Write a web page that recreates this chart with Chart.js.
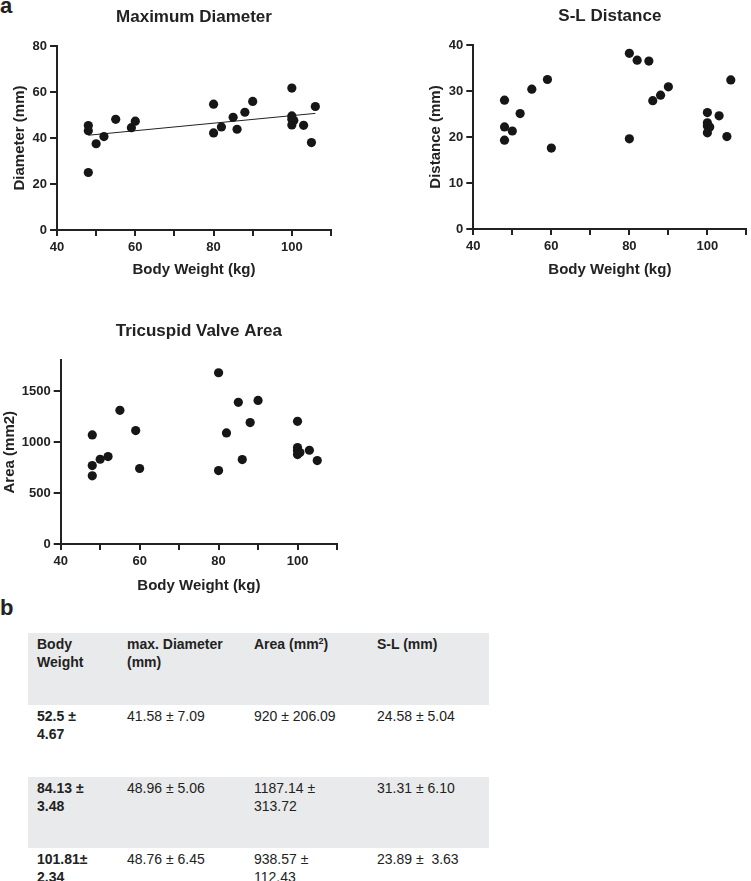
<!DOCTYPE html>
<html>
<head>
<meta charset="utf-8">
<script src="https://cdn.jsdelivr.net/npm/chart.js@4/dist/chart.umd.min.js"></script>
<style>
  html, body { margin: 0; padding: 0; background: #fff; width: 751px; height: 881px; overflow: hidden; position: relative; font-family: "Liberation Sans", Arial, sans-serif; color: #222; }
  canvas { position: absolute; }
  .panel { position: absolute; font-weight: bold; font-size: 22px; line-height: 1; color: #222; }
  table { position: absolute; left: 28px; top: 633px; border-collapse: collapse; table-layout: fixed; font-size: 14px; line-height: 18px; color: #222; }
  td { vertical-align: top; padding: 2px 0 0 9px; white-space: nowrap; }
  tr.grey td { background: #e9eaeb; }
  td.b { font-weight: bold; }
  sup { font-size: 9px; line-height: 0; vertical-align: 5px; }
</style>
</head>
<body>
<div class="panel" style="left:0px;top:-5px;">a</div>
<div class="panel" style="left:0px;top:597px;">b</div>
<canvas id="c1" width="345" height="290" style="left:0px;top:0px;"></canvas>
<canvas id="c2" width="331" height="290" style="left:420px;top:0px;"></canvas>
<canvas id="c3" width="345" height="300" style="left:0px;top:300px;"></canvas>
<table id="tbl"></table>
<script>
// ---------- data ----------
const xTickValues = [40, 50, 60, 70, 80, 90, 100, 110];
const xTickLabels = [40, 60, 80, 100];
const diamTicks = [0, 20, 40, 60, 80];
const slTicks   = [0, 10, 20, 30, 40];
const areaTicks = [0, 500, 1000, 1500];

const diamWeight = [48, 48, 48, 50, 52, 55, 59, 60, 80, 80, 82, 85, 86, 88, 90, 100, 100, 100, 100, 100.5, 103, 105, 106];
const diameter   = [45.4, 43.2, 25.0, 37.5, 40.6, 48.1, 44.5, 47.3, 54.7, 42.2, 44.8, 49.0, 43.8, 51.2, 55.9, 61.7, 49.6, 48.1, 45.7, 47.6, 45.5, 38.0, 53.7];
const fitWeight  = [48, 106];
const fitDiam    = [41.2, 50.7];

const slWeight   = [48, 48, 48, 50, 52, 55, 59, 60, 80, 80, 82, 85, 86, 88, 90, 100, 100, 100, 100, 100.6, 103, 105, 106];
const slDistance = [28.0, 22.2, 19.3, 21.3, 25.1, 30.4, 32.5, 17.6, 38.2, 19.6, 36.7, 36.5, 27.9, 29.1, 30.9, 25.3, 23.1, 22.4, 20.9, 22.2, 24.6, 20.1, 32.4];

const areaWeight = [48, 48, 48, 50, 52, 55, 59, 60, 80, 80, 82, 85, 86, 88, 90, 100, 100, 100, 100, 100.6, 103, 105];
const areaValues = [1069, 769, 668, 831, 857, 1311, 1112, 740, 1679, 720, 1089, 1389, 828, 1190, 1408, 1203, 945, 916, 877, 897, 919, 818];

const tableHeader = ["Body<br>Weight", "max. Diameter<br>(mm)", "Area (mm<sup>2</sup>)", "S-L (mm)"];
const tableWeight = ["52.5 ±<br>4.67", "84.13 ±<br>3.48", "101.81±<br>2.34"];
const tableDiam   = ["41.58 ± 7.09", "48.96 ± 5.06", "48.76 ± 6.45"];
const tableArea   = ["920 ± 206.09", "1187.14 ±<br>313.72", "938.57 ±<br>112.43"];
const tableSL     = ["24.58 ± 5.04", "31.31 ± 6.10", "23.89 ±&nbsp; 3.63"];

// ---------- table ----------
(function buildTable() {
  const t = document.getElementById('tbl');
  const widths = [90, 127, 123, 121];
  const heights = [72, 72, 71, 72];
  let html = '<colgroup>' + widths.map(w => `<col style="width:${w}px">`).join('') + '</colgroup>';
  html += `<tr class="grey" style="height:${heights[0]}px">` + tableHeader.map(h => `<td class="b">${h}</td>`).join('') + '</tr>';
  for (let i = 0; i < tableWeight.length; i++) {
    html += `<tr class="${i === 1 ? 'grey' : ''}" style="height:${heights[i + 1]}px">` +
      `<td class="b">${tableWeight[i]}</td><td>${tableDiam[i]}</td><td>${tableArea[i]}</td><td>${tableSL[i]}</td></tr>`;
  }
  t.innerHTML = html;
})();

// ---------- charts ----------
const FONT = '"Liberation Sans", Arial, sans-serif';
const INK = '#222';

const plotTitle = {
  id: 'plotTitle',
  afterDraw(chart, args, opts) {
    const { ctx, chartArea } = chart;
    ctx.save();
    ctx.font = `bold 17px ${FONT}`;
    ctx.fillStyle = INK;
    ctx.textAlign = 'center';
    ctx.textBaseline = 'middle';
    ctx.fillText(opts.text, (chartArea.left + chartArea.right) / 2, opts.y);
    ctx.restore();
  }
};

function pts(xs, ys) { return xs.map((x, i) => ({ x: x, y: ys[i] })); }

function makeChart(id, o) {
  const datasets = [{
    type: 'scatter',
    data: pts(o.xs, o.ys),
    pointRadius: 4.6,
    pointBackgroundColor: '#161616',
    pointBorderWidth: 0,
    showLine: false
  }];
  if (o.fit) {
    datasets.push({
      type: 'line',
      data: pts(o.fit[0], o.fit[1]),
      borderColor: INK,
      borderWidth: 1,
      pointRadius: 0,
      fill: false
    });
  }
  new Chart(document.getElementById(id), {
    type: 'scatter',
    data: { datasets },
    plugins: [plotTitle],
    options: {
      responsive: false,
      animation: false,
      devicePixelRatio: 1,
      layout: { padding: { top: o.top, right: o.right, left: 0, bottom: 0 } },
      plugins: {
        legend: { display: false },
        tooltip: { enabled: false },
        plotTitle: { text: o.title, y: o.titleY }
      },
      scales: {
        x: {
          type: 'linear',
          min: 40, max: 110,
          afterFit(s) { s.height = o.xh; },
          afterBuildTicks(s) { s.ticks = xTickValues.map(v => ({ value: v })); },
          ticks: {
            autoSkip: false,
            maxRotation: 0,
            padding: 4,
            color: INK,
            font: { family: FONT, size: 13, weight: 'bold' },
            callback: v => xTickLabels.includes(v) ? String(v) : ''
          },
          grid: { display: true, drawOnChartArea: false, drawTicks: true, tickLength: 6, color: INK, lineWidth: 2 },
          border: { display: true, color: INK, width: 2 },
          title: { display: true, text: 'Body Weight (kg)', color: INK, font: { family: FONT, size: 15, weight: 'bold' }, padding: { top: 0, bottom: o.xtPad } }
        },
        y: {
          type: 'linear',
          min: 0, max: o.ymax,
          afterFit(s) { s.width = o.yw; },
          afterBuildTicks(s) { s.ticks = o.yticks.map(v => ({ value: v })); },
          ticks: {
            autoSkip: false,
            padding: 3,
            color: INK,
            font: { family: FONT, size: 13, weight: 'bold' },
            callback: v => String(v)
          },
          grid: { display: true, drawOnChartArea: false, drawTicks: true, tickLength: 7, color: INK, lineWidth: 2 },
          border: { display: true, color: INK, width: 2 },
          title: { display: true, text: o.ytitle, color: INK, font: { family: FONT, size: 15, weight: 'bold' }, padding: { top: o.ytPad, bottom: 0 } }
        }
      }
    }
  });
}

makeChart('c1', {
  xs: diamWeight, ys: diameter, fit: [fitWeight, fitDiam],
  title: 'Maximum Diameter', titleY: 17.5,
  ytitle: 'Diameter (mm)', ymax: 80, yticks: diamTicks,
  top: 46, right: 14, yw: 57, xh: 60, xtPad: 11.6, ytPad: 10.6
});

makeChart('c2', {
  xs: slWeight, ys: slDistance,
  title: 'S-L Distance', titleY: 16.5,
  ytitle: 'Distance (mm)', ymax: 40, yticks: slTicks,
  top: 45, right: 1, yw: 53.3, xh: 61, xtPad: 11.6, ytPad: 7.1
});

makeChart('c3', {
  xs: areaWeight, ys: areaValues,
  title: 'Tricuspid Valve Area', titleY: 31,
  ytitle: 'Area (mm2)', ymax: 1800, yticks: areaTicks,
  top: 60.4, right: 8, yw: 60.7, xh: 56, xtPad: 5.6, ytPad: 0.6
});
</script>
</body>
</html>
